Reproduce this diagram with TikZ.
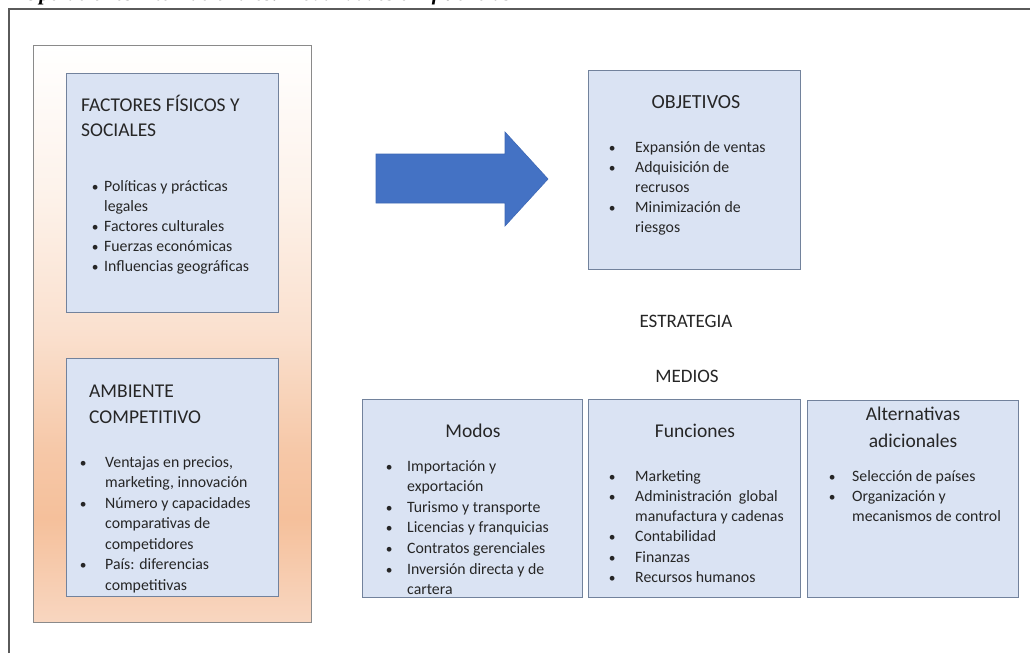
\documentclass[tikz,border=0pt]{standalone}
\usepackage{fontspec}
\setmainfont{Carlito}
\newfontfamily\capfont{Liberation Serif}
\definecolor{boxfill}{HTML}{DAE3F3}
\definecolor{boxline}{HTML}{72829C}
\definecolor{bigline}{HTML}{8A8A8A}
\definecolor{framecol}{HTML}{5A5A5A}
\definecolor{arrowfill}{HTML}{4472C4}
\definecolor{arrowline}{HTML}{3E68B5}
\definecolor{txt}{HTML}{262626}
\definecolor{pk1}{HTML}{F8D6C0}
\definecolor{pk2}{HTML}{F5C09B}
\definecolor{pk3}{HTML}{F6C8A8}
\definecolor{pk4}{HTML}{FAE0CE}
\definecolor{pk5}{HTML}{FDF2EA}
\pgfdeclareverticalshading{peach}{100bp}{color(0bp)=(pk1); color(25bp)=(pk1); color(34bp)=(pk2); color(40bp)=(pk3); color(50bp)=(pk4); color(62bp)=(pk5); color(75bp)=(white); color(100bp)=(white)}
\newcommand{\bl}[1]{\makebox[#1pt][l]{\hspace{0.6pt}\scalebox{0.85}{\textbullet}}}
\tikzset{
  bluebox/.style={draw=boxline, fill=boxfill, line width=0.9pt, inner sep=0pt},
  bigbox/.style={draw=bigline, shading=peach, line width=0.8pt, inner sep=0pt},
  ttl/.style={inner sep=0pt, text=txt},
  lst/.style={inner sep=0pt, anchor=base west, text=txt},
}
\begin{document}
\begin{tikzpicture}[x=1pt,y=-1pt]
\useasboundingbox (0,0) rectangle (1030,653);
\fill[white] (0,0) rectangle (1030,653);
% clipped caption
\begin{scope}
\clip (0,0) rectangle (1030,8);
\node[inner sep=0pt, anchor=base west, font=\capfont\bfseries\itshape\fontsize{21}{24}\selectfont] (cap) at (24,1) {Operaciones internacionales: modalidades e influencias};
\end{scope}
% frame
\draw[framecol, line width=1.6pt] (9,653) -- (9,9) -- (1030,9);
% big gradient box
\node[bigbox, minimum width=278, minimum height=577] (big) at (172,333.5) {};
% left boxes
\node[bluebox, minimum width=212, minimum height=239] (b1) at (172,192.5) {};
\node[bluebox, minimum width=212, minimum height=238] (b2) at (172,477) {};
% right boxes
\node[bluebox, minimum width=212, minimum height=199] (obj) at (694,169.5) {};
\node[bluebox, minimum width=220, minimum height=198] (modos) at (472,498) {};
\node[bluebox, minimum width=212, minimum height=198] (func) at (694,498) {};
\node[bluebox, minimum width=211, minimum height=197] (alt) at (912.5,498.5) {};
% arrow
\draw[arrowline, fill=arrowfill, line width=0.6pt] (376,154) -- (505,154) -- (505,132) -- (548,179) -- (505,226) -- (505,203) -- (376,203) -- cycle;
% box 1 text
\node[ttl, anchor=base west, font=\fontsize{19.5}{25}\selectfont] (t1) at (81,111)
  {\begin{tabular}[t]{@{}l@{}}FACTORES FÍSICOS Y\\ SOCIALES\end{tabular}};
\node[lst, font=\fontsize{15.8}{20.2}\selectfont] (l1) at (91,191)
  {\begin{tabular}[t]{@{}l@{}l@{}}
  \bl{13} & Políticas y prácticas\\
   & legales\\
  \bl{13} & Factores culturales\\
  \bl{13} & Fuerzas económicas\\
  \bl{13} & Influencias geográficas
  \end{tabular}};
% box 2 text
\node[ttl, anchor=base west, font=\fontsize{19.5}{26}\selectfont] (t2) at (89,397)
  {\begin{tabular}[t]{@{}l@{}}AMBIENTE\\ COMPETITIVO\end{tabular}};
\node[lst, font=\fontsize{15.8}{20.5}\selectfont] (l2) at (79,467)
  {\begin{tabular}[t]{@{}l@{}l@{}}
  \bl{26} & Ventajas en precios,\\
   & marketing, innovación\\
  \bl{26} & Número y capacidades\\
   & comparativas de\\
   & competidores\\
  \bl{26} & País: diferencias\\
   & competitivas
  \end{tabular}};
% objetivos
\node[ttl, anchor=base, font=\fontsize{20}{24}\selectfont] (t3) at (696,108) {OBJETIVOS};
\node[lst, font=\fontsize{15.8}{20.2}\selectfont] (l3) at (608,152)
  {\begin{tabular}[t]{@{}l@{}l@{}}
  \bl{27} & Expansión de ventas\\
  \bl{27} & Adquisición de\\
   & recrusos\\
  \bl{27} & Minimización de\\
   & riesgos
  \end{tabular}};
% estrategia / medios
\node[ttl, anchor=base, font=\fontsize{19}{23}\selectfont] (estr) at (686,327) {ESTRATEGIA};
\node[ttl, anchor=base, font=\fontsize{19}{23}\selectfont] (med) at (687,382) {MEDIOS};
% modos
\node[ttl, anchor=base, font=\fontsize{19.5}{24}\selectfont] (t4) at (473,437) {Modos};
\node[lst, font=\fontsize{15.8}{20.6}\selectfont] (l4) at (385,471)
  {\begin{tabular}[t]{@{}l@{}l@{}}
  \bl{22} & Importación y\\
   & exportación\\
  \bl{22} & Turismo y transporte\\
  \bl{22} & Licencias y franquicias\\
  \bl{22} & Contratos gerenciales\\
  \bl{22} & Inversión directa y de\\
   & cartera
  \end{tabular}};
% funciones
\node[ttl, anchor=base, font=\fontsize{19.5}{24}\selectfont] (t5) at (695,437) {Funciones};
\node[lst, font=\fontsize{15.8}{20.3}\selectfont] (l5) at (608,481)
  {\begin{tabular}[t]{@{}l@{}l@{}}
  \bl{27} & Marketing\\
  \bl{27} & Administración\ \ global\\
   & manufactura y cadenas\\
  \bl{27} & Contabilidad\\
  \bl{27} & Finanzas\\
  \bl{27} & Recursos humanos
  \end{tabular}};
% alternativas
\node[ttl, anchor=base, font=\fontsize{19.5}{27}\selectfont] (t6) at (913,420)
  {\begin{tabular}[t]{@{}c@{}}Alternativas\\ adicionales\end{tabular}};
\node[lst, font=\fontsize{15.8}{20.3}\selectfont] (l6) at (828,481)
  {\begin{tabular}[t]{@{}l@{}l@{}}
  \bl{24} & Selección de países\\
  \bl{24} & Organización y\\
   & mecanismos de control
  \end{tabular}};
\end{tikzpicture}
\end{document}
